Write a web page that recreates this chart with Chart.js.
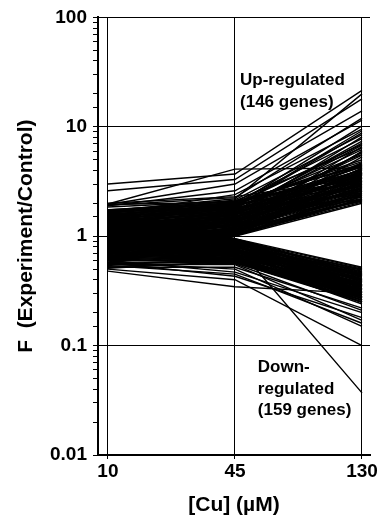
<!DOCTYPE html>
<html>
<head>
<meta charset="utf-8">
<script src="https://cdn.jsdelivr.net/npm/chart.js@4.4.1/dist/chart.umd.min.js"></script>
<style>
  html, body { margin: 0; padding: 0; background: #fff; }
  canvas { display: block; }
</style>
</head>
<body>
<canvas id="chart" width="380" height="518"></canvas>
<script>
// Cu doses (x categories) and y tick labels
const doses = ['10', '45', '130'];
const yTickLabels = ['0.01', '0.1', '1', '10', '100'];

// Up-regulated genes: ratio at 10, 45 and 130 uM
const upAt10 = [3.0, 2.6, 1.97, 1.95, 1.9, 1.7, 1.92, 1.6, 1.5, 1.95,
  1.62, 1.55, 1.48, 1.42, 1.38, 1.35, 1.3, 1.28, 1.25, 1.22,
  1.2, 1.18, 1.15, 1.12, 1.1, 1.08, 1.05, 1.02, 1.0, 0.98,
  0.96, 0.94, 0.92, 0.9, 0.88, 0.86, 0.84, 0.82, 0.8, 0.78,
  0.76, 0.74, 0.72, 0.7, 0.68, 0.66, 0.64, 0.62, 0.6, 0.58,
  1.68, 1.6, 1.52, 1.45, 1.4, 1.33, 1.27, 1.21, 1.16, 1.11,
  1.06, 1.01, 0.97, 0.93, 0.89, 0.85, 1.7, 1.64, 1.5, 1.36,
  1.24, 1.14, 1.04, 0.95, 0.87, 0.79, 0.71, 2.0, 1.85, 1.75,
  1.74, 1.66, 1.58, 1.51, 1.46, 1.41, 1.37, 1.32, 1.29, 1.26,
  1.23, 1.19, 1.17, 1.13, 1.09, 1.07, 1.03, 0.99, 0.97, 0.93,
  0.91, 0.87, 0.85, 0.81, 0.77, 0.75, 0.73, 0.69, 0.65, 0.61,
  0.57, 0.55, 1.72, 1.57, 1.43, 1.31, 1.19, 1.09, 0.99, 0.83];
const upAt45 = [3.7, 3.3, 4.1, 3.0, 2.6, 2.2, 2.25, 2.4, 2.15, 2.05,
  2.05, 1.95, 1.9, 1.85, 2.0, 1.8, 1.75, 1.7, 1.95, 1.65,
  1.6, 1.55, 1.5, 1.72, 1.45, 1.4, 1.62, 1.35, 1.3, 1.52,
  1.28, 1.25, 1.44, 1.2, 1.18, 1.36, 1.15, 1.12, 1.3, 1.1,
  1.08, 1.22, 1.05, 1.02, 1.14, 1.0, 1.06, 1.04, 1.01, 1.09,
  1.98, 1.88, 1.78, 1.68, 1.58, 1.48, 1.42, 1.38, 1.33, 1.26,
  1.22, 1.17, 1.13, 1.1, 1.07, 1.03, 2.1, 1.92, 1.83, 1.64,
  1.56, 1.47, 1.4, 1.34, 1.27, 1.21, 1.16, 2.3, 2.1, 2.0,
  2.08, 2.02, 1.97, 1.93, 1.87, 1.82, 1.77, 1.73, 1.68, 1.63,
  1.59, 1.54, 1.5, 1.46, 1.42, 1.37, 1.33, 1.29, 1.26, 1.23,
  1.19, 1.16, 1.13, 1.11, 1.08, 1.06, 1.03, 1.02, 1.01, 1.05,
  1.03, 1.0, 1.96, 1.86, 1.76, 1.66, 1.57, 1.49, 1.41, 1.32];
const upAt130 = [21.5, 18, 4.2, 14, 11.5, 20, 12, 9.5, 8.5, 4.5,
  7.8, 6.9, 5.6, 9.2, 4.8, 6.2, 3.9, 7.1, 3.2, 4.4,
  3.6, 8.1, 2.9, 3.3, 5.8, 3.1, 4.1, 2.9, 6.6, 3.7,
  2.7, 4.0, 3.4, 2.5, 5.3, 3.0, 2.4, 3.8, 2.8, 2.3,
  3.5, 2.6, 2.2, 3.2, 2.1, 2.0, 2.9, 2.45, 2.15, 3.8,
  5.0, 4.3, 3.5, 7.4, 3.0, 4.7, 2.6, 5.9, 3.2, 2.4,
  4.2, 2.8, 6.0, 2.3, 3.6, 2.2, 3.3, 10.2, 8.8, 6.8,
  5.5, 4.5, 3.9, 3.05, 2.65, 2.35, 2.12, 3.4, 6.4, 4.0,
  4.4, 3.7, 4.6, 3.1, 4.0, 2.7, 3.6, 4.3, 2.5, 3.4,
  4.1, 2.3, 3.0, 3.9, 2.6, 3.5, 2.2, 2.95, 4.2, 2.5,
  3.3, 2.1, 2.75, 3.7, 2.4, 3.1, 2.05, 2.6, 2.3, 3.4,
  2.15, 2.5, 2.85, 2.4, 3.2, 2.15, 2.9, 3.8, 2.35, 4.6];

// Down-regulated genes: ratio at 10, 45 and 130 uM
const downAt10 = [1.6, 1.52, 1.45, 1.4, 1.35, 1.3, 1.25, 1.2, 1.18, 1.15,
  1.1, 1.08, 1.05, 1.02, 1.0, 0.98, 0.96, 0.94, 0.92, 0.9,
  0.88, 0.86, 0.84, 0.82, 0.8, 0.78, 0.76, 0.74, 0.72, 0.7,
  0.68, 0.66, 0.64, 0.62, 0.6, 1.55, 1.48, 1.38, 1.28, 1.22,
  1.12, 1.06, 0.99, 0.95, 0.91, 0.87, 0.83, 0.79, 0.75, 0.71,
  0.67, 0.63, 1.33, 1.16, 1.03, 0.89, 0.81, 0.73, 1.65, 1.42,
  0.6, 0.57, 0.54, 0.48, 0.5, 0.9, 0.58, 0.52, 0.55, 0.62,
  1.7, 1.63, 1.57, 1.5, 1.43, 1.37, 1.32, 1.27, 1.23, 1.19,
  1.14, 1.11, 1.07, 1.04, 1.01, 0.97, 0.95, 0.93, 0.89, 0.87,
  0.85, 0.83, 0.81, 0.79, 0.77, 0.75, 0.73, 0.71, 0.69, 0.65,
  0.61, 0.58, 0.56, 0.53, 0.51, 1.46, 1.21, 0.98, 0.86, 0.7];
const downAt45 = [0.95, 0.93, 0.91, 0.9, 0.88, 0.87, 0.85, 0.84, 0.82, 0.81,
  0.8, 0.78, 0.77, 0.76, 0.75, 0.74, 0.73, 0.72, 0.71, 0.7,
  0.69, 0.68, 0.67, 0.66, 0.65, 0.64, 0.63, 0.62, 0.61, 0.6,
  0.59, 0.58, 0.57, 0.58, 0.59, 0.94, 0.92, 0.9, 0.89, 0.86,
  0.83, 0.82, 0.79, 0.77, 0.75, 0.73, 0.71, 0.69, 0.66, 0.63,
  0.61, 0.6, 0.8, 0.76, 0.72, 0.67, 0.62, 0.59, 0.93, 0.87,
  0.47, 0.43, 0.45, 0.345, 0.4, 0.84, 0.5, 0.52, 0.55, 0.56,
  0.94, 0.92, 0.9, 0.89, 0.87, 0.86, 0.84, 0.83, 0.81, 0.8,
  0.79, 0.77, 0.76, 0.75, 0.73, 0.72, 0.71, 0.69, 0.68, 0.66,
  0.65, 0.64, 0.62, 0.61, 0.6, 0.59, 0.58, 0.6, 0.62, 0.6,
  0.58, 0.57, 0.58, 0.57, 0.59, 0.95, 0.88, 0.85, 0.8, 0.74];
const downAt130 = [0.52, 0.42, 0.47, 0.35, 0.45, 0.38, 0.44, 0.31, 0.41, 0.36,
  0.48, 0.29, 0.39, 0.34, 0.43, 0.27, 0.37, 0.32, 0.4, 0.26,
  0.35, 0.3, 0.38, 0.25, 0.33, 0.28, 0.36, 0.24, 0.31, 0.27,
  0.25, 0.3, 0.26, 0.29, 0.28, 0.46, 0.4, 0.33, 0.5, 0.28,
  0.37, 0.32, 0.45, 0.3, 0.35, 0.27, 0.41, 0.29, 0.34, 0.25,
  0.32, 0.28, 0.49, 0.44, 0.39, 0.36, 0.33, 0.3, 0.51, 0.43,
  0.2, 0.18, 0.16, 0.3, 0.1, 0.037, 0.15, 0.22, 0.17, 0.21,
  0.44, 0.38, 0.49, 0.32, 0.41, 0.36, 0.46, 0.3, 0.39, 0.34,
  0.43, 0.28, 0.37, 0.31, 0.42, 0.27, 0.35, 0.3, 0.4, 0.26,
  0.33, 0.29, 0.37, 0.25, 0.32, 0.28, 0.35, 0.26, 0.31, 0.27,
  0.3, 0.26, 0.29, 0.25, 0.33, 0.47, 0.5, 0.45, 0.4, 0.36];

// Text labels inside the plot (x in dose index units, y in data units)
const notes = [
  { lines: ['Up-regulated', '(146 genes)'], x: 1.04, y: 24 },
  { lines: ['Down-', 'regulated', '(159 genes)'], x: 1.18, y: 0.057 }
];

const FONT = '"Liberation Sans", Arial, sans-serif';
const isDecade = v => Math.abs(Math.log10(v) - Math.round(Math.log10(v))) < 1e-6;

function geneLine(a, b, c) {
  return {
    data: [{ x: 0, y: a }, { x: 1, y: b }, { x: 2, y: c }],
    borderColor: '#000',
    borderWidth: 1.4,
    pointRadius: 0,
    tension: 0,
    fill: false
  };
}

const datasets = upAt10.map((v, i) => geneLine(v, upAt45[i], upAt130[i]))
  .concat(downAt10.map((v, i) => geneLine(v, downAt45[i], downAt130[i])));

const notesPlugin = {
  id: 'notes',
  afterDatasetsDraw(chart) {
    const { ctx, scales: { x, y } } = chart;
    ctx.save();
    ctx.font = 'bold 17px ' + FONT;
    ctx.fillStyle = '#000';
    ctx.textBaseline = 'alphabetic';
    notes.forEach(n => {
      const px = x.getPixelForValue(n.x);
      const py = y.getPixelForValue(n.y);
      n.lines.forEach((t, i) => ctx.fillText(t, px, py + i * 21.5));
    });
    ctx.restore();
  }
};

new Chart(document.getElementById('chart'), {
  type: 'line',
  data: { datasets },
  plugins: [notesPlugin],
  options: {
    responsive: false,
    animation: false,
    layout: { padding: { top: 17, right: 10, left: 0, bottom: 0 } },
    plugins: { legend: { display: false }, tooltip: { enabled: false } },
    scales: {
      x: {
        type: 'linear',
        min: -0.078,
        max: 2.063,
        afterBuildTicks: axis => { axis.ticks = doses.map((d, i) => ({ value: i })); },
        afterFit: scale => { scale.height = 63; },
        ticks: {
          callback: v => doses[v],
          autoSkip: false,
          maxRotation: 0,
          padding: 1,
          color: '#000',
          font: { family: FONT, size: 19, weight: 'bold' }
        },
        grid: { color: '#000', lineWidth: 1, tickLength: 4, tickColor: '#000' },
        border: { color: '#000', width: 2 },
        title: {
          display: true,
          text: '[Cu] (µM)',
          color: '#000',
          font: { family: FONT, size: 21, weight: 'bold' },
          padding: { top: 0, bottom: 0 }
        }
      },
      y: {
        type: 'logarithmic',
        min: 0.01,
        max: 100,
        afterFit: scale => { scale.width = 98; },
        ticks: {
          callback: v => isDecade(v) ? yTickLabels[Math.round(Math.log10(v)) + 2] : '',
          autoSkip: false,
          padding: 6,
          color: '#000',
          font: { family: FONT, size: 19, weight: 'bold' }
        },
        grid: {
          color: ctx => isDecade(ctx.tick.value) ? '#000' : 'rgba(0,0,0,0)',
          lineWidth: 1,
          tickLength: 5,
          tickColor: '#000'
        },
        border: { color: '#000', width: 2 },
        title: {
          display: true,
          text: 'F  (Experiment/Control)',
          color: '#000',
          font: { family: FONT, size: 21, weight: 'bold' },
          padding: { top: 14, bottom: 0 }
        }
      }
    }
  }
});
</script>
</body>
</html>
